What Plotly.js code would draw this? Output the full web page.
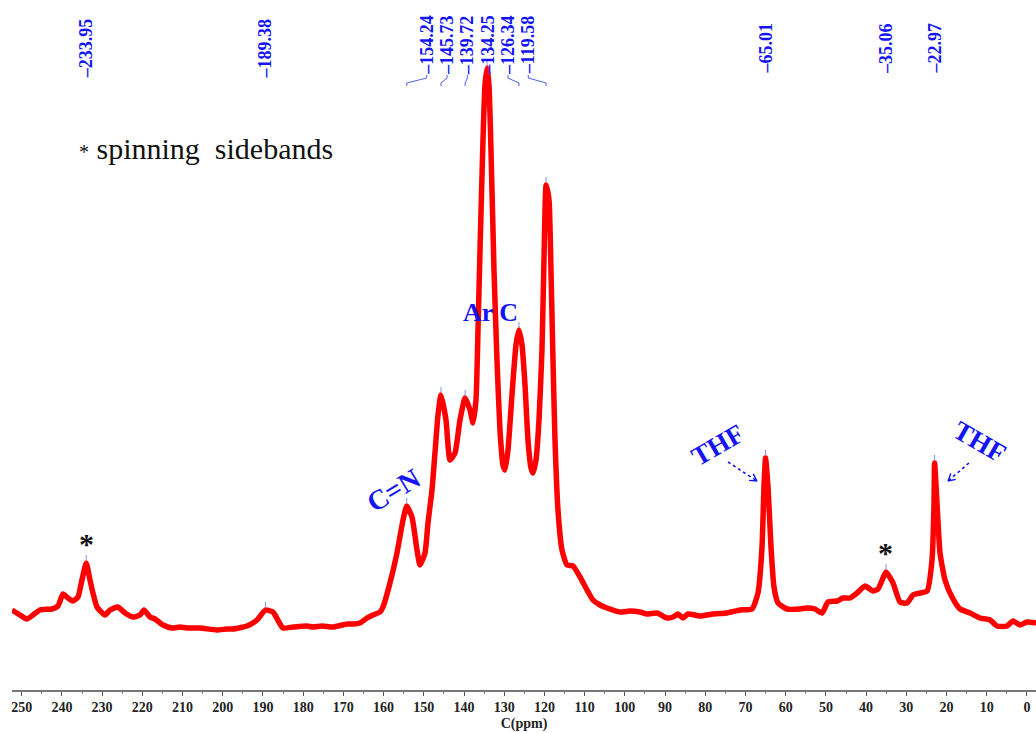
<!DOCTYPE html>
<html>
<head>
<meta charset="utf-8">
<script src="https://cdn.plot.ly/plotly-3.0.1.min.js"></script>
<style>html,body{margin:0;padding:0;background:#fff;}#chart{width:1036px;height:733px;}</style>
</head>
<body>
<div id="chart"></div>
<script>
// ---- Data ----
// chemical shift (ppm) of the traced spectrum points
const shiftPpm = [252.42,250.43,248.69,245.45,242.47,240.97,239.73,238.49,237.24,236.00,235.01,233.95,233.02,232.27,231.28,229.29,228.04,226.05,224.31,222.32,220.58,219.59,218.09,216.85,214.86,212.63,210.63,208.89,205.66,201.43,198.94,197.45,193.97,191.48,189.38,187.51,185.02,182.53,179.05,177.56,175.32,172.58,169.10,167.61,165.87,164.13,162.63,160.89,160.15,158.41,156.67,155.17,154.24,152.94,151.69,150.95,149.70,148.96,147.96,147.22,146.47,145.73,144.48,143.49,142.24,141.00,139.72,138.51,137.76,137.02,136.52,136.02,135.28,134.78,134.25,133.79,133.29,132.54,131.80,131.05,130.31,129.81,129.06,128.07,127.07,126.34,125.58,124.83,124.09,123.34,122.84,122.10,121.35,120.61,120.11,119.58,118.86,118.37,117.87,117.37,116.63,115.63,114.39,112.89,111.15,109.41,107.92,106.18,104.44,101.21,98.72,96.23,94.49,92.00,89.52,88.02,86.78,85.54,84.29,81.31,78.08,74.60,71.36,68.38,66.89,65.89,65.40,65.01,64.40,63.65,62.91,61.91,59.68,56.44,54.70,52.71,50.97,49.48,47.24,45.74,44.00,42.26,40.27,38.28,37.04,35.80,35.06,33.31,31.57,29.83,28.33,26.60,24.85,23.61,23.11,22.97,22.37,21.62,20.38,18.64,16.65,14.16,11.67,9.19,7.45,4.96,3.47,1.73,-0.02,-2.25];
// intensity (arbitrary units)
const intensity = [80,75,71,80,81,84,96,92,89,93,110,127,110,97,83,75,80,83,77,73,75,80,73,71,65,62,63,62,62,60,61,61,64,70,80,78,62,63,64,63,64,63,66,66,67,72,75,78,83,107,137,170,184,173,140,125,137,167,200,237,275,295,270,230,237,270,292,280,267,290,360,440,550,605,622,605,540,420,330,260,225,220,240,295,345,360,345,305,250,222,217,230,270,340,430,505,490,420,330,250,180,140,125,124,113,100,90,85,82,78,79,78,76,77,72,73,76,72,76,74,76,77,80,81,97,143,203,232,203,143,103,87,81,81,82,81,77,88,89,92,92,97,104,99,101,112,118,107,88,87,95,97,99,130,187,227,187,137,110,93,81,77,72,70,64,64,69,65,68,67];
// labelled peaks (ppm)
const peakPpm = [233.95,189.38,154.24,145.73,139.72,134.25,126.34,119.58,65.01,35.06,22.97];
const clusterPeaks = [154.24,145.73,139.72,134.25,126.34,119.58];
const sidebandPeaks = [233.95,35.06];
const tickValues = [250,240,230,220,210,200,190,180,170,160,150,140,130,120,110,100,90,80,70,60,50,40,30,20,10,0];
const axisTitle = 'C(ppm)';
const legendNote = 'spinning&nbsp;&nbsp;sidebands';

// ---- geometry helpers ----
const X0 = 252.41, X1 = -2.25, PL = 12, PW = 1024, PH = 690;
const toPpm = px => X0 - (px - PL) / PW * (X0 - X1);
const toI = py => PH - py;
const yPaper = py => 1 - py / PH;

function intensityAt(p){
  let best = 0, bd = 1e9;
  shiftPpm.forEach((s,i)=>{ const d = Math.abs(s-p); if(d<bd){bd=d;best=i;} });
  return intensity[best];
}

// label positions: cluster labels spread evenly around their mean
const clusterMean = clusterPeaks.reduce((a,b)=>a+b,0)/clusterPeaks.length;
const spread = 5.05;
function labelPos(p){
  const k = clusterPeaks.indexOf(p);
  if(k < 0) return p;
  return clusterMean + ((clusterPeaks.length-1)/2 - k) * spread;
}

const blue = '#1414f5';
const serif = '"Liberation Serif", "Times New Roman", serif';
const annotations = [];
const shapes = [];

peakPpm.forEach(p=>{
  const inCluster = clusterPeaks.indexOf(p) >= 0;
  const lp = labelPos(p);
  annotations.push({
    x: lp, xref:'x', y: yPaper(inCluster ? 45 : 48), yref:'paper',
    text: '\u2013' + p.toFixed(2), textangle: -90, showarrow:false,
    xanchor:'center', yanchor:'middle',
    font:{family:serif, size:18, color:blue, weight:'bold'}
  });
  if(inCluster && Math.abs(lp - p) > 0.3){
    shapes.push({type:'path', xref:'x', yref:'paper',
      path:`M${p},${yPaper(86)} L${p},${yPaper(83)} L${lp},${yPaper(78)} L${lp},${yPaper(75)}`,
      line:{color:'#5060ee', width:1}});
  }
  const top = intensityAt(p);
  shapes.push({type:'line', xref:'x', yref:'y', x0:p, x1:p, y0:top+3, y1:top+8,
    line:{color:'#8090ff', width:1}});
});

// sideband asterisks
sidebandPeaks.forEach(p=>{
  annotations.push({x:p, xref:'x', y:intensityAt(p) + 1, yref:'y', text:'*', showarrow:false,
    xanchor:'center', yanchor:'bottom',
    font:{family:serif, size:30, color:'#111', weight:'bold'}});
});

// text notes
annotations.push({x:toPpm(77), y:toI(148), xref:'x', yref:'y', xanchor:'left', yanchor:'middle', showarrow:false,
  text:'<span style="font-size:20px">*</span> ' + legendNote,
  font:{family:serif, size:30, color:'#111'}});
annotations.push({x:toPpm(393), y:toI(490), xref:'x', yref:'y', showarrow:false, textangle:-31,
  text:'<b>C=N</b>', font:{family:serif, size:28, color:blue}});
annotations.push({x:toPpm(490), y:toI(312), xref:'x', yref:'y', showarrow:false,
  text:'<b>Ar C</b>', font:{family:serif, size:26, color:blue}});
annotations.push({x:toPpm(718), y:toI(445), xref:'x', yref:'y', showarrow:false, textangle:-30,
  text:'<b>THF</b>', font:{family:serif, size:27, color:blue}});
annotations.push({x:toPpm(980), y:toI(442), xref:'x', yref:'y', showarrow:false, textangle:30,
  text:'<b>THF</b>', font:{family:serif, size:27, color:blue}});

// dotted arrows (pixel geometry -> data coords)
function arrow(x0,y0,x1,y1){
  shapes.push({type:'line', xref:'x', yref:'y', x0:toPpm(x0), y0:toI(y0), x1:toPpm(x1), y1:toI(y1),
    line:{color:blue, width:1.6, dash:'dot'}});
  const ang = Math.atan2(y1-y0, x1-x0), L = 8;
  [0.5,-0.5].forEach(d=>{
    const hx = x1 - L*Math.cos(ang+d), hy = y1 - L*Math.sin(ang+d);
    shapes.push({type:'line', xref:'x', yref:'y', x0:toPpm(x1), y0:toI(y1), x1:toPpm(hx), y1:toI(hy),
      line:{color:blue, width:1.4}});
  });
}
arrow(728,462,757,481);
arrow(969,463,948,481);

const trace = {
  x: shiftPpm, y: intensity, type:'scatter', mode:'lines',
  line:{color:'#ff0000', width:5.5, shape:'spline', smoothing:0.5},
  hoverinfo:'skip'
};

const layout = {
  width:1036, height:733,
  margin:{l:PL, r:0, t:0, b:43, pad:0},
  paper_bgcolor:'#fff', plot_bgcolor:'#fff',
  showlegend:false,
  xaxis:{
    range:[X0, X1], tickmode:'array', tickvals:tickValues, ticktext:tickValues.map(String),
    ticks:'outside', ticklen:4, tickwidth:1, tickcolor:'#555',
    minor:{tickmode:'linear', tick0:0, dtick:5, ticks:'outside', ticklen:2, tickcolor:'#777', showgrid:false},
    showline:true, linecolor:'#777', linewidth:1.5, showgrid:false, zeroline:false,
    tickfont:{family:serif, size:14, color:'#222', weight:'bold'},
    title:{text:axisTitle, standoff:4, font:{family:serif, size:14, color:'#222', weight:'bold'}},
    fixedrange:true
  },
  yaxis:{range:[0, PH], visible:false, fixedrange:true},
  annotations, shapes
};

Plotly.newPlot('chart', [trace], layout, {staticPlot:true, displayModeBar:false});
</script>
</body>
</html>
